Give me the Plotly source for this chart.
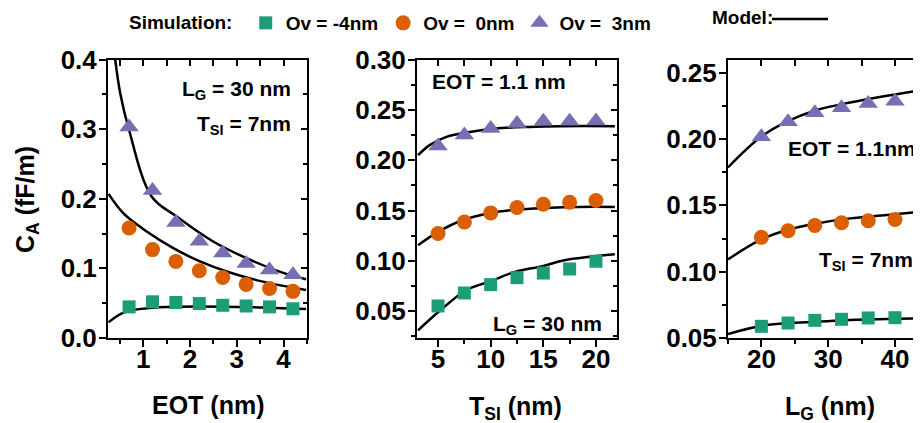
import plotly.graph_objects as go

# ---------------- data ----------------
eot = [0.7, 1.2, 1.7, 2.2, 2.7, 3.2, 3.7, 4.2]
eot_ovm4 = [0.0447, 0.052, 0.051, 0.0495, 0.047, 0.046, 0.0447, 0.042]
eot_ov0 = [0.158, 0.127, 0.110, 0.0965, 0.087, 0.077, 0.071, 0.067]
eot_ov3 = [0.303, 0.212, 0.166, 0.139, 0.122, 0.107, 0.0975, 0.091]

eot_model_x_ov3 = [0.404, 0.51, 0.687, 1.185, 1.717, 2.496, 3.206, 3.915, 4.48]
eot_model_ov3 = [0.400, 0.352, 0.302, 0.203, 0.1745, 0.1386, 0.1147, 0.0954, 0.0844]
eot_model_x = [0.262, 0.581, 1.078, 1.645, 2.213, 2.85, 3.56, 4.48]
eot_model_ov0 = [0.207, 0.179, 0.153, 0.129, 0.110, 0.094, 0.081, 0.069]
eot_model_xm4 = [0.262, 0.58, 1.08, 1.79, 2.71, 3.63, 4.48]
eot_model_ovm4 = [0.0225, 0.0365, 0.0427, 0.045, 0.045, 0.0436, 0.0417]

tsi = [5, 7.5, 10, 12.5, 15, 17.5, 20]
tsi_ovm4 = [0.0553, 0.0682, 0.0765, 0.0834, 0.088, 0.092, 0.0997]
tsi_ov0 = [0.1272, 0.1387, 0.1477, 0.153, 0.1563, 0.1583, 0.160]
tsi_ov3 = [0.214, 0.225, 0.2315, 0.2364, 0.2387, 0.2387, 0.239]

tsi_model_x = [3.1, 5.0, 7.66, 10.0, 12.3, 15.0, 17.0, 21.8]
tsi_model_ovm4 = [0.031, 0.049, 0.0709, 0.080, 0.0891, 0.095, 0.1007, 0.1066]
tsi_model_x2 = [3.1, 5.0, 7.3, 10.0, 12.5, 15.2, 18.3, 21.8]
tsi_model_ov0 = [0.1156, 0.1288, 0.1404, 0.1477, 0.151, 0.1526, 0.1536, 0.1536]
tsi_model_x3 = [3.1, 4.2, 5.8, 8.0, 10.5, 13.6, 16.7, 21.8]
tsi_model_ov3 = [0.205, 0.215, 0.2232, 0.2281, 0.2315, 0.2331, 0.2338, 0.2338]

lg = [20, 24, 28, 32, 36, 40]
lg_ovm4 = [0.0588, 0.0613, 0.0633, 0.0641, 0.0651, 0.0653]
lg_ov0 = [0.1259, 0.1309, 0.1349, 0.1369, 0.1384, 0.1394]
lg_ov3 = [0.2018, 0.213, 0.2198, 0.2236, 0.2269, 0.2286]

lg_model_x = [15.0, 19.85, 23.8, 28.3, 33.3, 38.8, 43.9]
lg_model_ovm4 = [0.0530, 0.0590, 0.0611, 0.0623, 0.0636, 0.0643, 0.0648]
lg_model_ov0 = [0.1093, 0.1239, 0.1314, 0.1364, 0.1402, 0.1427, 0.1452]
lg_model_ov3 = [0.1786, 0.2013, 0.2131, 0.2219, 0.2276, 0.2327, 0.2369]

series_names = ["Ov = -4nm", "Ov =\u00a0 0nm", "Ov =\u00a0 3nm"]

# ---------------- style ----------------
OFF = 8                      # page body margin offset
W, H = 921 - OFF, 423 - OFF
FONT = "Liberation Sans, Arial, sans-serif"
GREEN, ORANGE, PURPLE = "#1b9e77", "#d95f02", "#7570b3"
colors = [GREEN, ORANGE, PURPLE]
symbols = ["square", "circle", "triangle-up"]
sizes = [13, 15, 17]


def px(x):
    return (x - OFF) / W


def py(y):
    return 1 - (y - OFF) / H


fig = go.Figure()

panels = [
    dict(x=eot, ys=[eot_ovm4, eot_ov0, eot_ov3],
         mx=[eot_model_xm4, eot_model_x, eot_model_x_ov3],
         my=[eot_model_ovm4, eot_model_ov0, eot_model_ov3]),
    dict(x=tsi, ys=[tsi_ovm4, tsi_ov0, tsi_ov3],
         mx=[tsi_model_x, tsi_model_x2, tsi_model_x3],
         my=[tsi_model_ovm4, tsi_model_ov0, tsi_model_ov3]),
    dict(x=lg, ys=[lg_ovm4, lg_ov0, lg_ov3],
         mx=[lg_model_x, lg_model_x, lg_model_x],
         my=[lg_model_ovm4, lg_model_ov0, lg_model_ov3]),
]

for p, panel in enumerate(panels):
    xa = "x" if p == 0 else f"x{p+1}"
    ya = "y" if p == 0 else f"y{p+1}"
    for k in range(3):
        fig.add_trace(go.Scatter(
            x=panel["mx"][k], y=panel["my"][k], mode="lines",
            line=dict(color="black", width=2.5, shape="spline", smoothing=1.0),
            showlegend=False, hoverinfo="skip", xaxis=xa, yaxis=ya))
    for k in range(3):
        fig.add_trace(go.Scatter(
            x=panel["x"], y=panel["ys"][k], mode="markers",
            marker=dict(symbol=symbols[k], size=sizes[k], color=colors[k]),
            name=series_names[k], showlegend=(p == 0), legendrank=k,
            xaxis=xa, yaxis=ya))

# overlay axes (top/right inward ticks): dummy traces
for p in range(3):
    fig.add_trace(go.Scatter(x=[None], y=[None], xaxis=f"x{p+4}", yaxis=f"y{p+4}",
                             showlegend=False, hoverinfo="skip"))

xdom = [[px(108), px(307)], [px(417), px(617)], [px(728), 1.0]]
ydom = [py(338), py(59.5)]
xranges = [[0.25, 4.5], [3, 22], [15, 43.9]]
yranges = [[0, 0.4], [0.0235, 0.30], [0.05, 0.26]]
xdt = [1, 5, 10]
xmin = [0.5, 2.5, 5]
ydt = [0.1, 0.05, 0.05]
ymin = [0.05, 0.025, 0.025]
yfmt = [".1f", ".2f", ".2f"]

tickfont = dict(family=FONT, size=26, color="black", weight="bold")
axis_common = dict(showgrid=False, zeroline=False, showline=True, linecolor="black",
                   linewidth=2, ticks="outside", ticklen=7, tickwidth=2, tickcolor="black",
                   tickfont=tickfont, mirror=True)

layout = {}
for p in range(3):
    sx = "" if p == 0 else str(p + 1)
    layout[f"xaxis{sx}"] = dict(axis_common, domain=xdom[p], range=xranges[p],
                                anchor=f"y{sx}", dtick=xdt[p], tick0=0,
                                ticklabelstandoff=-10,
                                minor=dict(dtick=xmin[p], ticks="outside", ticklen=4,
                                           tickwidth=2, tickcolor="black"))
    layout[f"yaxis{sx}"] = dict(axis_common, domain=ydom, range=yranges[p],
                                anchor=f"x{sx}", dtick=ydt[p], tick0=0, tickformat=yfmt[p],
                                ticklabelstandoff=-3,
                                minor=dict(dtick=ymin[p], ticks="outside", ticklen=4,
                                           tickwidth=2, tickcolor="black"))
    o = p + 4
    layout[f"xaxis{o}"] = dict(domain=xdom[p], range=xranges[p], overlaying=f"x{sx}",
                               side="top", anchor=f"y{o}", showgrid=False, zeroline=False,
                               showline=False, showticklabels=False, ticks="inside",
                               ticklen=6, tickwidth=2, tickcolor="black", dtick=xdt[p], tick0=0,
                               minor=dict(dtick=xmin[p], ticks="inside", ticklen=6,
                                          tickwidth=2, tickcolor="black"))
    layout[f"yaxis{o}"] = dict(domain=ydom, range=yranges[p], overlaying=f"y{sx}",
                               side="right", anchor=f"x{o}", showgrid=False, zeroline=False,
                               showline=False, showticklabels=False, ticks="inside",
                               ticklen=6, tickwidth=2, tickcolor="black", dtick=ydt[p], tick0=0,
                               minor=dict(dtick=ymin[p], ticks="inside", ticklen=4,
                                          tickwidth=2, tickcolor="black"))

fig.update_layout(**layout)

afont = dict(family=FONT, size=21, color="black", weight="bold")
tfont = dict(family=FONT, size=25, color="black", weight="bold")
annots = [
    # axis titles
    dict(text="C<sub>A</sub> (fF/m)", x=px(27), y=py(200), textangle=-90, font=tfont,
         xanchor="center", yanchor="middle"),
    dict(text="EOT (nm)", x=px(208), y=py(405), font=tfont, xanchor="center", yanchor="middle"),
    dict(text="T<sub>SI</sub> (nm)", x=px(515), y=py(408), font=tfont, xanchor="center", yanchor="middle"),
    dict(text="L<sub>G</sub> (nm)", x=px(830), y=py(408), font=tfont, xanchor="center", yanchor="middle"),
    # panel labels
    dict(text="L<sub>G</sub> = 30 nm", x=px(293), y=py(90), font=afont, xanchor="right", yanchor="middle"),
    dict(text="T<sub>SI</sub> = 7nm", x=px(293), y=py(125), font=afont, xanchor="right", yanchor="middle"),
    dict(text="EOT = 1.1 nm", x=px(430), y=py(81), font=afont, xanchor="left", yanchor="middle"),
    dict(text="L<sub>G</sub> = 30 nm", x=px(604), y=py(325), font=afont, xanchor="right", yanchor="middle"),
    dict(text="EOT = 1.1nm", x=px(918), y=py(148), font=afont, xanchor="right", yanchor="middle"),
    dict(text="T<sub>SI</sub> = 7nm", x=px(817), y=py(261), font=afont, xanchor="left", yanchor="middle"),
    # legend "Model:" label
    dict(text="Model:", x=px(710), y=py(18), font=dict(family=FONT, size=19, color="black", weight="bold"),
         xanchor="left", yanchor="middle"),
]
for a in annots:
    a.update(xref="paper", yref="paper", showarrow=False)

fig.update_layout(
    width=W, height=H, margin=dict(l=0, r=0, t=0, b=0, autoexpand=False),
    plot_bgcolor="white", paper_bgcolor="white",
    annotations=annots,
    shapes=[dict(type="line", xref="paper", yref="paper", x0=px(772), x1=px(828),
                 y0=py(19), y1=py(19), line=dict(color="black", width=2.5))],
    legend=dict(orientation="h", x=px(127), y=py(4), xanchor="left", yanchor="top",
                title=dict(text="Simulation:\u00a0", side="left",
                           font=dict(family=FONT, size=19, color="black", weight="bold")),
                font=dict(family=FONT, size=19, color="black", weight="bold"),
                bgcolor="rgba(0,0,0,0)", traceorder="normal", itemwidth=30,
                tracegroupgap=0),
    showlegend=True,
)

fig.write_html("out.html")
